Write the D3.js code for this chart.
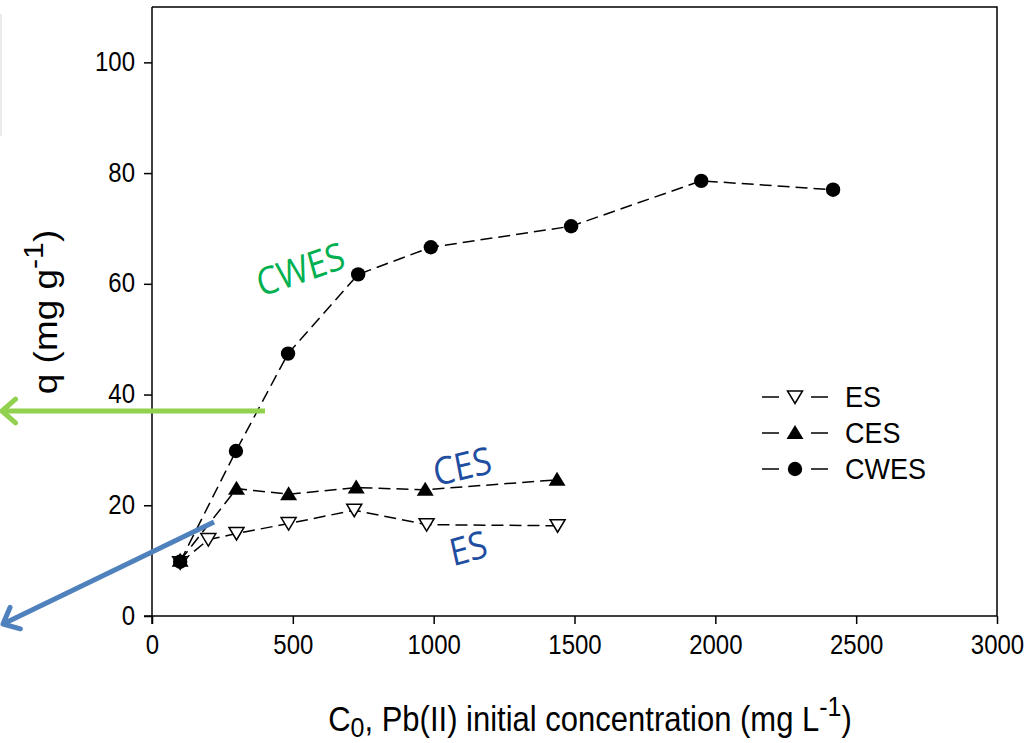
<!DOCTYPE html>
<html>
<head>
<meta charset="utf-8">
<script src="https://cdn.jsdelivr.net/npm/d3@7"></script>
<style>
  body { margin: 0; background: #fff; }
  svg { display: block; }
</style>
</head>
<body>
<svg id="chart" width="1031" height="743"></svg>
<script>
// data
const seriesNames = ["ES", "CES", "CWES"]
const esX = [100, 200, 300, 485, 718, 975, 1440]
const esY = [9.6, 13.8, 14.9, 16.7, 19.1, 16.5, 16.3]
const cesX = [100, 300, 485, 725, 970, 1438]
const cesY = [10.0, 23.0, 22.0, 23.2, 22.8, 24.6]
const cwesX = [100, 298, 483, 732, 990, 1488, 1950, 2418]
const cwesY = [9.8, 29.8, 47.4, 61.7, 66.6, 70.4, 78.6, 77.0]
const xTicks = [0, 500, 1000, 1500, 2000, 2500, 3000]
const yTicks = [0, 20, 40, 60, 80, 100]

const font = "'Liberation Sans', Arial, sans-serif"
const annFont = "'Open Sans', 'Noto Sans', sans-serif"
const stretch = 1.12 // the source picture is a little taller than wide

const svg = d3.select("#chart")
const plotLeft = 152, plotRight = 997, plotTop = 7, plotBottom = 616

const x = d3.scaleLinear().domain([0, 3000]).range([plotLeft, plotRight])
const y = d3.scaleLinear().domain([0, 110]).range([plotBottom, plotTop])

const zip = (xs, ys) => xs.map((v, i) => ({ x: v, y: ys[i] }))
const series = [
	{ name: seriesNames[0], pts: zip(esX, esY), shape: "down" },
	{ name: seriesNames[1], pts: zip(cesX, cesY), shape: "up" },
	{ name: seriesNames[2], pts: zip(cwesX, cwesY), shape: "circle" }
]

// faint line at far left edge
svg.append("line")
	.attr("x1", 1).attr("y1", 14).attr("x2", 1).attr("y2", 136)
	.style("stroke", "#e4e4e4").style("stroke-width", 1.5)

// frame top / right
svg.append("path")
	.attr("d", `M${plotLeft},${plotTop}H${plotRight}V${plotBottom}`)
	.style("fill", "none").style("stroke", "#000").style("stroke-width", 1.5)

// axes
const xAxis = svg.append("g")
	.attr("transform", `translate(0,${plotBottom})`)
	.call(d3.axisBottom(x).tickValues(xTicks).tickSize(8).tickPadding(9).tickFormat(d3.format("d")))
const yAxis = svg.append("g")
	.attr("transform", `translate(${plotLeft},0)`)
	.call(d3.axisLeft(y).tickValues(yTicks).tickSize(8).tickPadding(9).tickFormat(d3.format("d")))

;[xAxis, yAxis].forEach(ax => {
	ax.select(".domain").style("stroke", "#000").style("stroke-width", 1.5)
	ax.selectAll(".tick line").style("stroke", "#000").style("stroke-width", 1.5)
	ax.selectAll(".tick text")
		.style("font-family", font)
		.style("font-size", "24px")
		.style("fill", "#000")
})
// stretch tick labels vertically around their own position
xAxis.selectAll(".tick text")
	.attr("dy", null).attr("y", null)
	.attr("transform", `translate(0,${8 + 9 + 21}) scale(1,${stretch})`)
yAxis.selectAll(".tick text")
	.attr("dy", null).attr("x", null)
	.attr("transform", `translate(-17,8) scale(1,${stretch})`)
xAxis.select(".domain").attr("d", `M${plotLeft - 8},0H${plotRight}`)
yAxis.select(".domain").attr("d", `M0,${plotBottom + 8}V${plotTop}`)

// axis titles
const xt = svg.append("text")
	.attr("transform", `translate(590,731) scale(1,${stretch})`)
	.attr("text-anchor", "middle")
	.style("font-family", font).style("font-size", "31px").style("fill", "#000")
xt.append("tspan").text("C")
xt.append("tspan").text("0").attr("dy", 5).style("font-size", "25px")
xt.append("tspan").text(", Pb(II) initial concentration (mg L").attr("dy", -5)
xt.append("tspan").text("-1").attr("dy", -13).style("font-size", "25px")
xt.append("tspan").text(")").attr("dy", 13)

const yt = svg.append("text")
	.attr("transform", `translate(57,312) scale(1,${stretch}) rotate(-90)`)
	.attr("text-anchor", "middle")
	.style("font-family", font).style("font-size", "33px").style("fill", "#000")
yt.append("tspan").text("q (mg g")
yt.append("tspan").text("-1").attr("dy", -14).style("font-size", "27px")
yt.append("tspan").text(")").attr("dy", 14)

// marker shapes
const upTri = "M0,-8L8.5,6L-8.5,6Z"
const downTri = "M0,6.5L7.5,-6L-7.5,-6Z"
function drawMarker(g, shape) {
	if (shape === "circle") {
		g.append("circle").attr("r", 7.2).style("fill", "#000")
	} else if (shape === "up") {
		g.append("path").attr("d", upTri).style("fill", "#000")
	} else {
		g.append("path").attr("d", downTri)
			.style("fill", "#fff").style("stroke", "#000").style("stroke-width", 1.5)
	}
}

const line = d3.line().x(d => x(d.x)).y(d => y(d.y))

series.forEach(s => {
	svg.append("path")
		.datum(s.pts)
		.attr("d", line)
		.style("fill", "none")
		.style("stroke", "#000")
		.style("stroke-width", 1.5)
		.style("stroke-dasharray", "12,6")
})
series.forEach(s => {
	svg.selectAll(null)
		.data(s.pts)
		.enter()
		.append("g")
		.attr("transform", d => `translate(${x(d.x)},${y(d.y)})`)
		.each(function () { drawMarker(d3.select(this), s.shape) })
})

// legend
const legend = svg.append("g")
series.forEach((s, i) => {
	const ly = 397 + i * 36
	legend.append("line").attr("x1", 762).attr("x2", 779).attr("y1", ly).attr("y2", ly)
		.style("stroke", "#000").style("stroke-width", 1.5)
	legend.append("line").attr("x1", 811).attr("x2", 828).attr("y1", ly).attr("y2", ly)
		.style("stroke", "#000").style("stroke-width", 1.5)
	drawMarker(legend.append("g").attr("transform", `translate(795,${ly})`), s.shape)
	legend.append("text")
		.attr("transform", `translate(845,${ly + 10}) scale(1,${stretch})`)
		.text(s.name)
		.style("font-family", font).style("font-size", "27px").style("fill", "#000")
})

// annotations
const ann = [
	{ text: "CWES", cx: 300, cy: 268, rot: -17, color: "#00b050" },
	{ text: "CES", cx: 462, cy: 465, rot: -12, color: "#1f4ea1" },
	{ text: "ES", cx: 468, cy: 547, rot: -14, color: "#1f4ea1" }
]
ann.forEach(a => {
	svg.append("text")
		.attr("transform", `translate(${a.cx},${a.cy}) scale(1,${stretch}) rotate(${a.rot})`)
		.attr("text-anchor", "middle")
		.attr("dominant-baseline", "central")
		.text(a.text)
		.style("font-family", annFont)
		.style("font-size", "34px")
		.style("fill", a.color)
})

// arrows
function arrow(x1, y1, x2, y2, color) {
	const ang = Math.atan2(y2 - y1, x2 - x1)
	const hl = 18, spread = 0.72
	const a1 = ang + Math.PI - spread, a2 = ang + Math.PI + spread
	const g = svg.append("g")
		.style("stroke", color).style("stroke-width", 5)
		.style("fill", "none").style("stroke-linecap", "round").style("stroke-linejoin", "round")
	g.append("line").attr("x1", x1).attr("y1", y1).attr("x2", x2).attr("y2", y2).style("stroke-linecap", "butt")
	g.append("path").attr("d",
		`M${x2 + hl * Math.cos(a1)},${y2 + hl * Math.sin(a1)}L${x2},${y2}L${x2 + hl * Math.cos(a2)},${y2 + hl * Math.sin(a2)}`)
}
arrow(265, 411, 2, 411, "#92d050")
arrow(214, 522, 3, 624, "#4f81bd")
</script>
</body>
</html>
